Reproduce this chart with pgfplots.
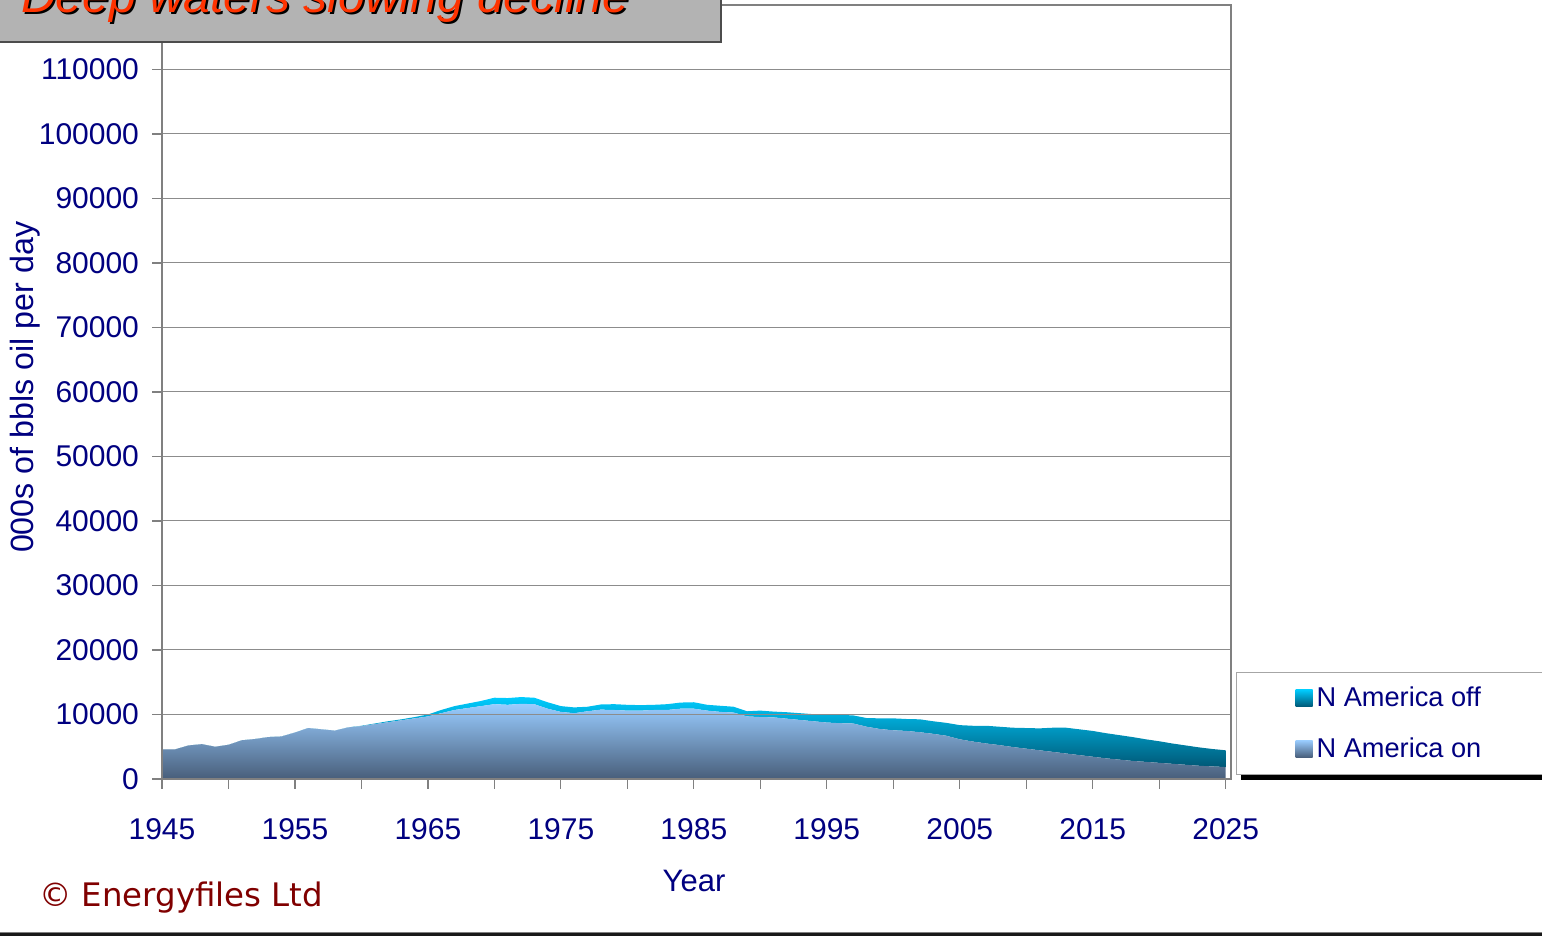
\documentclass[border=0pt]{standalone}
\usepackage{pgfplots}
\pgfplotsset{compat=1.18}
\usepackage{pgfplotstable}
\usepackage{fontspec}
\setmainfont{Liberation Sans}
\newfontfamily\dejavu{DejaVu Sans}

\definecolor{navy}{RGB}{0,0,128}
\definecolor{onTop}{RGB}{153,204,255}
\definecolor{onBot}{RGB}{72,94,122}
\definecolor{offTop}{RGB}{0,204,255}
\definecolor{offBot}{RGB}{0,88,118}
\definecolor{titlered}{RGB}{255,51,0}
\definecolor{titlegray}{RGB}{179,179,179}
\definecolor{maroon}{RGB}{128,0,0}

% N America onshore / offshore, 000s bbl/d
\pgfplotstableread{
year on off
1945 4600 0
1946 4600 0
1947 5200 0
1948 5400 0
1949 5000 0
1950 5300 0
1951 6000 0
1952 6200 0
1953 6500 0
1954 6600 0
1955 7200 0
1956 7900 0
1957 7700 0
1958 7500 0
1959 8000 0
1960 8200 50
1961 8500 100
1962 8800 150
1963 9100 150
1964 9400 200
1965 9700 300
1966 10200 500
1967 10700 600
1968 11000 700
1969 11300 800
1970 11600 1000
1971 11500 1050
1972 11650 1050
1973 11600 1000
1974 10900 1000
1975 10400 900
1976 10200 900
1977 10500 700
1978 10750 800
1979 10700 900
1980 10600 900
1981 10600 850
1982 10700 800
1983 10700 900
1984 10900 950
1985 10900 1000
1986 10600 900
1987 10400 950
1988 10300 900
1989 9700 800
1990 9600 1000
1991 9550 900
1992 9350 1000
1993 9150 1050
1994 8950 1100
1995 8750 1200
1996 8650 1300
1997 8600 1250
1998 8100 1350
1999 7750 1650
2000 7550 1850
2001 7450 1850
2002 7250 2000
2003 7000 1950
2004 6700 2000
2005 6150 2200
2006 5800 2450
2007 5500 2750
2008 5250 2850
2009 4950 3000
2010 4700 3200
2011 4450 3400
2012 4200 3750
2013 3950 4000
2014 3700 4000
2015 3450 4000
2016 3200 3900
2017 3000 3800
2018 2800 3700
2019 2650 3500
2020 2500 3350
2021 2350 3150
2022 2200 3000
2023 2050 2850
2024 1950 2700
2025 1850 2600
}\datatable

\begin{document}
\begin{tikzpicture}
% legend shadow strip
\fill[black] (620.5pt,78.2pt) rectangle (775pt,81.5pt);
\begin{axis}[
  at={(81pt,78.5pt)}, anchor=south west,
  scale only axis, width=534.5pt, height=387pt,
  xmin=1945, xmax=2025.4, ymin=0, ymax=120000,
  stack plots=y, area style,
  xtick={1945,1955,...,2025},
  minor xtick={1950,1960,...,2020},
  ytick={0,10000,...,110000},
  ymajorgrids,
  grid style={draw=gray!90, line width=0.5pt},
  axis line style={draw=gray, line width=0.6pt},
  tick style={draw=gray, line width=0.6pt},
  tick align=outside,
  major tick length=5pt, minor tick length=5pt,
  xtick pos=bottom, ytick pos=left,
  scaled y ticks=false,
  /pgf/number format/fixed,
  /pgf/number format/1000 sep={},
  /pgf/number format/assume math mode=true,
  ticklabel style={font=\fontsize{15}{18}\selectfont, text=navy},
  xticklabel style={yshift=-11pt},
  yticklabel style={xshift=-3pt},
  xlabel={Year},
  xlabel style={at={(axis description cs:0.4977,-0.132)}, anchor=center,
    font=\fontsize{15.5}{18}\selectfont, text=navy},
  ylabel={000s of bbls oil per day},
  ylabel style={at={(axis description cs:-0.128,0.506)}, anchor=center,
    font=\fontsize{16.1}{18}\selectfont, text=navy},
  legend style={at={(axis description cs:1.0047,0.138)}, anchor=north west,
    draw=gray!70, line width=0.6pt, fill=white,
    font=\fontsize{13.6}{16}\selectfont, text=navy,
    inner xsep=29.5pt, inner ysep=5pt, row sep=10pt},
  legend cell align=left,
  reverse legend,
  legend image code/.code={\path[#1, draw=none] (0pt,-4.25pt) rectangle (8.5pt,4.25pt);},
]
\addplot[draw=none, top color=onTop, bottom color=onBot] table[x=year, y=on] {\datatable} \closedcycle;
\addlegendentry{N America on}
\addplot[draw=none, top color=offTop, bottom color=offBot] table[x=year, y=off] {\datatable} \closedcycle;
\addlegendentry{N America off}
\end{axis}

% title banner
\filldraw[fill=titlegray, draw=black!70, line width=1pt] (-2pt,446.75pt) rectangle (360.5pt,480pt);
\node[anchor=base west, font=\fontsize{24}{28}\selectfont\itshape, text=black] at (8pt,460.5pt) {Deep waters slowing decline};
\node[anchor=base west, font=\fontsize{24}{28}\selectfont\itshape, text=titlered] at (7pt,461.5pt) {Deep waters slowing decline};

\node[anchor=base west, font=\dejavu\fontsize{16.2}{19}\selectfont, text=maroon] at (16pt,14.5pt) {© Energyfiles Ltd};

\draw[gray, line width=0.5pt] (0pt,1.9pt) -- (771pt,1.9pt);
\fill[black!90] (0pt,0pt) rectangle (771pt,1.6pt);

\pgfresetboundingbox
\path[use as bounding box] (0pt,0pt) rectangle (771pt,468pt);
\end{tikzpicture}
\end{document}
